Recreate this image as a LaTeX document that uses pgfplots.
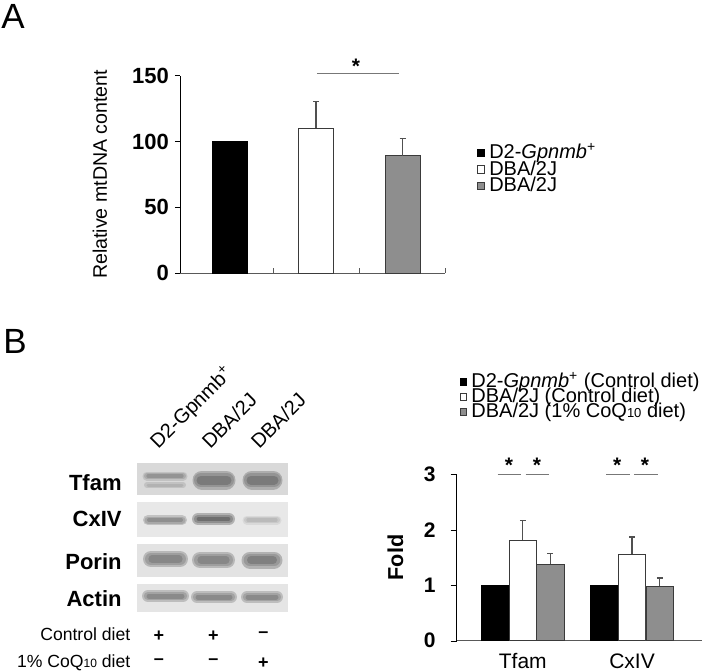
\documentclass[border=0pt]{standalone}
\usepackage{fontspec}
\setmainfont{Liberation Sans}
\usepackage{pgfplots}
\pgfplotsset{compat=1.18}
\definecolor{bargray}{HTML}{8E8E8E}
\definecolor{edge}{HTML}{3A3A3A}
\definecolor{errc}{HTML}{505050}
\definecolor{sigc}{HTML}{777777}
\pgfplotsset{
  sqlegend/.style={legend image code/.code={\draw[##1] (0pt,-1.8pt) rectangle (3.6pt,1.8pt);}},
  sqlegendB/.style={legend image code/.code={\draw[##1] (0pt,-1.6pt) rectangle (3.2pt,1.6pt);}},
}
\newcommand{\lgap}{\hspace*{1.6pt}}
\begin{document}
\begin{tikzpicture}
\path[use as bounding box] (0,0) rectangle (351.5pt,335.5pt);

% ---------------- Panel A ----------------
\begin{axis}[
  at={(90pt,199pt)}, anchor=south west,
  scale only axis, width=132.5pt, height=98.65pt,
  xmin=-0.572, xmax=2.49, ymin=0, ymax=150,
  axis x line=bottom, axis y line=left,
  x axis line style={-, draw=black!65},
  y axis line style={-, draw=black},
  ytick={0,50,100,150},
  xtick={0.5,1.5,2.49}, xticklabels={},
  tick align=outside, major tick length=2.5pt,
  xtick style={draw=black!65, yshift=2.5pt},
  ytick style={draw=black},
  /pgf/number format/assume math mode=true,
  yticklabel style={font=\bfseries\fontsize{11}{12}\selectfont, xshift=0.5pt},
  ylabel={Relative mtDNA content},
  ylabel style={at={(axis description cs:-0.302,0.5)}, anchor=center, font=\fontsize{9.8}{12}\selectfont},
  clip=false,
  legend style={at={(axis description cs:1.121,0.651)}, anchor=north west, draw=none, fill=none,
    inner sep=0pt, outer sep=0pt, row sep=0pt,
    nodes={inner ysep=0pt, inner xsep=0.5pt, text height=7.1pt, text depth=1.15pt},
    font=\fontsize{10}{12}\selectfont},
  legend cell align=left,
]
\addplot[ybar, bar width=0.405, bar shift=0pt, fill=black, draw=black, sqlegend] coordinates {(0,100)};
\addplot[ybar, bar width=0.405, bar shift=0pt, fill=white, draw=edge, sqlegend,
  error bars/.cd, y dir=plus, y explicit,
  error bar style={errc, line width=0.6pt},
  error mark options={errc, rotate=90, mark size=1.5pt, line width=0.6pt}]
  coordinates {(1,110.2) +- (0,20.2)};
\addplot[ybar, bar width=0.405, bar shift=0pt, fill=bargray, draw=edge, sqlegend,
  error bars/.cd, y dir=plus, y explicit,
  error bar style={errc, line width=0.6pt},
  error mark options={errc, rotate=90, mark size=1.5pt, line width=0.6pt}]
  coordinates {(2,89.1) +- (0,12.9)};
\legend{\lgap D2-\textit{Gpnmb}\textsuperscript{+}, \lgap DBA/2J, \lgap DBA/2J}
\draw[sigc, line width=0.5pt] (axis cs:1.01,151.3) -- (axis cs:1.96,151.3);
\node[anchor=north, inner sep=0pt, font=\bfseries\fontsize{10.5}{12}\selectfont] at (axis cs:1.46,163.2) {*};
\end{axis}

% ---------------- Panel B (bars) ----------------
\begin{axis}[
  at={(228.35pt,15.15pt)}, anchor=south west,
  scale only axis, width=122.5pt, height=83.2pt,
  xmin=-0.605, xmax=1.638, ymin=0, ymax=3,
  axis x line=bottom, axis y line=left,
  x axis line style={-, draw=black!65},
  y axis line style={-, draw=black},
  ytick={0,1,2,3},
  xtick={0,1}, xticklabels={Tfam,CxIV},
  tick align=outside, major tick length=3pt,
  xtick style={draw=none},
  ytick style={draw=black},
  /pgf/number format/assume math mode=true,
  yticklabel style={font=\bfseries\fontsize{10.5}{12}\selectfont, xshift=-4pt},
  xticklabel style={font=\fontsize{10.5}{12}\selectfont, yshift=0pt},
  ylabel={Fold},
  ylabel style={at={(axis description cs:-0.25,0.5)}, anchor=center, font=\bfseries\fontsize{10.8}{12}\selectfont},
  clip=false,
  legend style={at={(axis description cs:0.0135,1.6)}, anchor=north west, draw=none, fill=none,
    inner sep=0pt, outer sep=0pt, row sep=0pt,
    nodes={inner ysep=0pt, inner xsep=0.5pt, text height=6.5pt, text depth=1pt},
    font=\fontsize{10}{12}\selectfont},
  legend cell align=left,
]
\addplot[ybar, bar width=0.252, bar shift=0pt, fill=black, draw=black, sqlegendB] coordinates {(-0.252,1) (0.746,1)};
\addplot[ybar, bar width=0.252, bar shift=0pt, fill=white, draw=edge, sqlegendB,
  error bars/.cd, y dir=plus, y explicit,
  error bar style={errc, line width=0.6pt},
  error mark options={errc, rotate=90, mark size=1.5pt, line width=0.6pt}]
  coordinates {(0,1.81) +- (0,0.35) (1,1.56) +- (0,0.31)};
\addplot[ybar, bar width=0.252, bar shift=0pt, fill=bargray, draw=edge, sqlegendB,
  error bars/.cd, y dir=plus, y explicit,
  error bar style={errc, line width=0.6pt},
  error mark options={errc, rotate=90, mark size=1.5pt, line width=0.6pt}]
  coordinates {(0.252,1.38) +- (0,0.19) (1.254,0.985) +- (0,0.145)};
\legend{\lgap D2-\textit{Gpnmb}\textsuperscript{+} (Control diet), \lgap DBA/2J (Control diet), \lgap DBA/2J (1\% CoQ{\fontsize{6.5}{7}\selectfont 10} diet)}
\draw[sigc, line width=0.6pt] (axis cs:-0.23,3.0) -- (axis cs:-0.016,3.0);
\draw[sigc, line width=0.6pt] (axis cs:0.027,3.0) -- (axis cs:0.24,3.0);
\draw[sigc, line width=0.6pt] (axis cs:0.762,3.0) -- (axis cs:0.982,3.0);
\draw[sigc, line width=0.6pt] (axis cs:1.018,3.0) -- (axis cs:1.24,3.0);
\node[anchor=north, inner sep=0pt, font=\bfseries\fontsize{10.5}{12}\selectfont] at (axis cs:-0.126,3.306) {*};
\node[anchor=north, inner sep=0pt, font=\bfseries\fontsize{10.5}{12}\selectfont] at (axis cs:0.13,3.306) {*};
\node[anchor=north, inner sep=0pt, font=\bfseries\fontsize{10.5}{12}\selectfont] at (axis cs:0.865,3.306) {*};
\node[anchor=north, inner sep=0pt, font=\bfseries\fontsize{10.5}{12}\selectfont] at (axis cs:1.119,3.306) {*};
\end{axis}

% ---------------- overlay: labels and western blot (pixel coordinates) ----------------
\begin{axis}[
  at={(0pt,0pt)}, anchor=south west,
  scale only axis, width=351.5pt, height=335.5pt,
  xmin=0, xmax=703, ymin=0, ymax=671, y dir=reverse,
  hide axis, clip=false,
]
% blot backgrounds
\addplot[fill=black!15, draw=none, forget plot] coordinates {(136.7,462.7) (287.7,462.7) (287.7,495) (136.7,495)};
\addplot[fill=black!9, draw=none, forget plot] coordinates {(136.7,501.7) (287.7,501.7) (287.7,536.7) (136.7,536.7)};
\addplot[fill=black!11, draw=none, forget plot] coordinates {(136.7,544) (287.7,544) (287.7,576.7) (136.7,576.7)};
\addplot[fill=black!10, draw=none, forget plot] coordinates {(136.7,584) (287.7,584) (287.7,612.3) (136.7,612.3)};
% Tfam bands
\addplot[line width=4.5pt, color=black!24, line cap=round, forget plot] coordinates {(147,476) (183,476)};
\addplot[line width=3pt, color=black!33, line cap=round, forget plot] coordinates {(147,476) (183,476)};
\addplot[line width=1.6pt, color=black!42, line cap=round, forget plot] coordinates {(148,476) (182,476)};
\addplot[line width=3pt, color=black!24, line cap=round, forget plot] coordinates {(147,485) (183,485)};
\addplot[line width=1.5pt, color=black!30, line cap=round, forget plot] coordinates {(148,485) (182,485)};
\addplot[line width=9.5pt, color=black!32, line cap=round, forget plot] coordinates {(202,480) (226,480)};
\addplot[line width=7pt, color=black!42, line cap=round, forget plot] coordinates {(201,480) (227,480)};
\addplot[line width=4.5pt, color=black!52, line cap=round, forget plot] coordinates {(201,480) (227,480)};
\addplot[line width=9.5pt, color=black!32, line cap=round, forget plot] coordinates {(252,480) (273,480)};
\addplot[line width=7pt, color=black!42, line cap=round, forget plot] coordinates {(251,480) (274,480)};
\addplot[line width=4.5pt, color=black!52, line cap=round, forget plot] coordinates {(251,480) (274,480)};
% CxIV bands
\addplot[line width=5pt, color=black!24, line cap=round, forget plot] coordinates {(148,520) (182,520)};
\addplot[line width=3.5pt, color=black!34, line cap=round, forget plot] coordinates {(148,520) (182,520)};
\addplot[line width=2pt, color=black!44, line cap=round, forget plot] coordinates {(149,520) (181,520)};
\addplot[line width=6pt, color=black!30, line cap=round, forget plot] coordinates {(198,519) (229,519)};
\addplot[line width=4.2pt, color=black!44, line cap=round, forget plot] coordinates {(198,519) (229,519)};
\addplot[line width=2.4pt, color=black!57, line cap=round, forget plot] coordinates {(199,519) (228,519)};
\addplot[line width=4.5pt, color=black!15, line cap=round, forget plot] coordinates {(247,520) (277,520)};
\addplot[line width=3pt, color=black!21, line cap=round, forget plot] coordinates {(247,520) (277,520)};
\addplot[line width=1.6pt, color=black!27, line cap=round, forget plot] coordinates {(248,520) (276,520)};
% Porin bands
\addplot[line width=8pt, color=black!28, line cap=round, forget plot] coordinates {(151,559) (180,559)};
\addplot[line width=6pt, color=black!38, line cap=round, forget plot] coordinates {(151,559) (180,559)};
\addplot[line width=3.6pt, color=black!47, line cap=round, forget plot] coordinates {(152,559) (179,559)};
\addplot[line width=8pt, color=black!28, line cap=round, forget plot] coordinates {(200,560) (227,560)};
\addplot[line width=6pt, color=black!38, line cap=round, forget plot] coordinates {(200,560) (227,560)};
\addplot[line width=3.6pt, color=black!47, line cap=round, forget plot] coordinates {(201,560) (226,560)};
\addplot[line width=8.5pt, color=black!30, line cap=round, forget plot] coordinates {(250,560) (274,560)};
\addplot[line width=6.3pt, color=black!40, line cap=round, forget plot] coordinates {(250,560) (274,560)};
\addplot[line width=4pt, color=black!50, line cap=round, forget plot] coordinates {(251,560) (273,560)};
% Actin bands
\addplot[line width=6pt, color=black!26, line cap=round, forget plot] coordinates {(148,596) (183,596)};
\addplot[line width=4.2pt, color=black!36, line cap=round, forget plot] coordinates {(148,596) (183,596)};
\addplot[line width=2.5pt, color=black!46, line cap=round, forget plot] coordinates {(149,596) (182,596)};
\addplot[line width=6pt, color=black!26, line cap=round, forget plot] coordinates {(197,597) (231,597)};
\addplot[line width=4.2pt, color=black!36, line cap=round, forget plot] coordinates {(197,597) (231,597)};
\addplot[line width=2.5pt, color=black!46, line cap=round, forget plot] coordinates {(198,597) (230,597)};
\addplot[line width=6pt, color=black!26, line cap=round, forget plot] coordinates {(247,597) (277,597)};
\addplot[line width=4.2pt, color=black!36, line cap=round, forget plot] coordinates {(247,597) (277,597)};
\addplot[line width=2.5pt, color=black!46, line cap=round, forget plot] coordinates {(248,597) (276,597)};
% panel letters
\node[anchor=base west, inner sep=0pt, font=\fontsize{17.5}{20}\selectfont] at (axis cs:1,28) {A};
\node[anchor=base west, inner sep=0pt, font=\fontsize{17.5}{20}\selectfont] at (axis cs:3,353) {B};
% blot row labels
\node[anchor=base east, inner sep=0pt, font=\bfseries\fontsize{11}{12}\selectfont] at (axis cs:122,490) {Tfam};
\node[anchor=base east, inner sep=0pt, font=\bfseries\fontsize{11}{12}\selectfont] at (axis cs:122,526) {CxIV};
\node[anchor=base east, inner sep=0pt, font=\bfseries\fontsize{11}{12}\selectfont] at (axis cs:122,569) {Porin};
\node[anchor=base east, inner sep=0pt, font=\bfseries\fontsize{11}{12}\selectfont] at (axis cs:122,606.7) {Actin};
% lane labels
\node[anchor=base west, inner sep=0pt, rotate=45, font=\fontsize{10}{12}\selectfont] at (axis cs:158,450) {D2-Gpnmb\textsuperscript{+}};
\node[anchor=base west, inner sep=0pt, rotate=45, font=\fontsize{10}{12}\selectfont] at (axis cs:210,450) {DBA/2J};
\node[anchor=base west, inner sep=0pt, rotate=45, font=\fontsize{10}{12}\selectfont] at (axis cs:259,450) {DBA/2J};
% diet rows
\node[anchor=base east, inner sep=0pt, font=\fontsize{8.8}{10}\selectfont] at (axis cs:130.7,640) {Control diet};
\node[anchor=base east, inner sep=0pt, font=\fontsize{8.8}{10}\selectfont] at (axis cs:130.7,667) {1\% CoQ{\fontsize{6}{7}\selectfont 10} diet};
\node[inner sep=0pt, font=\bfseries\fontsize{9}{10}\selectfont] at (axis cs:159,636) {+};
\node[inner sep=0pt, font=\bfseries\fontsize{9}{10}\selectfont] at (axis cs:213.3,636) {+};
\node[inner sep=0pt, font=\bfseries\fontsize{9}{10}\selectfont] at (axis cs:263.3,635) {\textendash};
\node[inner sep=0pt, font=\bfseries\fontsize{9}{10}\selectfont] at (axis cs:159,662) {\textendash};
\node[inner sep=0pt, font=\bfseries\fontsize{9}{10}\selectfont] at (axis cs:213.3,662) {\textendash};
\node[inner sep=0pt, font=\bfseries\fontsize{9}{10}\selectfont] at (axis cs:263.3,663) {+};
\end{axis}
\end{tikzpicture}
\end{document}
